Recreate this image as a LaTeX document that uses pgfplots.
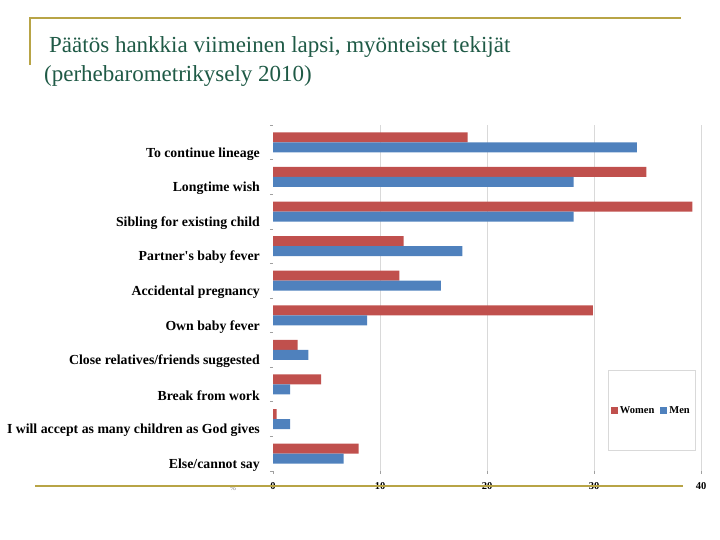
\documentclass[border=0pt]{standalone}
\usepackage{fontspec}
\setmainfont{Liberation Serif}
\usepackage{pgfplots}
\pgfplotsset{compat=1.18}
\definecolor{womenred}{RGB}{192,80,77}
\definecolor{menblue}{RGB}{79,129,189}
\definecolor{slidegold}{RGB}{184,164,70}
\definecolor{titlegreen}{RGB}{31,90,70}
\definecolor{gridgray}{RGB}{217,217,217}
\definecolor{tickgray}{RGB}{160,160,160}

\begin{document}
\begin{tikzpicture}
\path[use as bounding box] (0,0) rectangle (720bp,-540bp);
% slide frame
\draw[slidegold, line width=2bp] (30bp,-65bp) -- (30bp,-18bp) -- (681bp,-18bp);
\node[anchor=base west, inner sep=0pt, text=titlegreen,
      font=\fontsize{23bp}{28bp}\selectfont] at (49bp,-52bp)
      {Päätös hankkia viimeinen lapsi, myönteiset tekijät};
\node[anchor=base west, inner sep=0pt, text=titlegreen,
      font=\fontsize{23bp}{28bp}\selectfont] at (44bp,-81bp)
      {(perhebarometrikysely 2010)};

\begin{axis}[
  at={(273bp,-125bp)}, anchor=north west,
  scale only axis, width=428bp, height=346bp,
  xmin=0, xmax=40, ymin=-0.5, ymax=9.5,
  xbar, bar width=10bp,
  axis line style={draw=none},
  xtick={10,20,30,40},
  extra x ticks={0}, extra x tick style={grid=none},
  xmajorgrids, grid style={gridgray, line width=0.8bp},
  ytick={-0.5,0.5,1.5,2.5,3.5,4.5,5.5,6.5,7.5,8.5,9.5},
  y tick label as interval,
  yticklabels={Else/cannot say, I will accept as many children as God gives,
    Break from work, Close relatives/friends suggested, Own baby fever,
    Accidental pregnancy, Partner\textquotesingle s baby fever, Sibling for existing child,
    Longtime wish, To continue lineage},
  xtick pos=bottom, ytick pos=left,
  tick align=outside, major tick length=3bp,
  every tick/.style={tickgray, line width=0.6bp},
  /pgf/number format/assume math mode=true,
  xticklabel style={font=\bfseries\fontsize{10.5bp}{12bp}\selectfont,
    inner sep=0pt, yshift=-8bp},
  yticklabel style={font=\bfseries\fontsize{13.8bp}{15bp}\selectfont,
    inner sep=0pt, xshift=-10bp, yshift=-11.5bp},
  legend columns=2,
  legend style={at={(0.884,0.175)}, anchor=center, draw=gridgray,
    inner xsep=3bp, inner ysep=34bp,
    font=\bfseries\fontsize{10.5bp}{12bp}\selectfont,
    /tikz/every even column/.append style={column sep=4bp}},
]
\addplot[fill=womenred, draw=none, bar shift=5bp,
  legend image code/.code={\fill[womenred] (0bp,-3.5bp) rectangle (7bp,3.5bp);}]
  coordinates {
  (18.2,9) (34.9,8) (39.2,7) (12.2,6) (11.8,5)
  (29.9,4) (2.3,3) (4.5,2) (0.35,1) (8.0,0)
};
\addlegendentry{Women}
\addplot[fill=menblue, draw=none, bar shift=-5bp,
  legend image code/.code={\fill[menblue] (0bp,-3.5bp) rectangle (7bp,3.5bp);}]
  coordinates {
  (34.0,9) (28.1,8) (28.1,7) (17.7,6) (15.7,5)
  (8.8,4) (3.3,3) (1.6,2) (1.6,1) (6.6,0)
};
\addlegendentry{Men}
\end{axis}

\node[text=gray, font=\fontsize{7bp}{8bp}\selectfont] at (233bp,-488bp) {\%};
\draw[slidegold, line width=2bp] (35bp,-486bp) -- (683bp,-486bp);
\end{tikzpicture}
\end{document}
